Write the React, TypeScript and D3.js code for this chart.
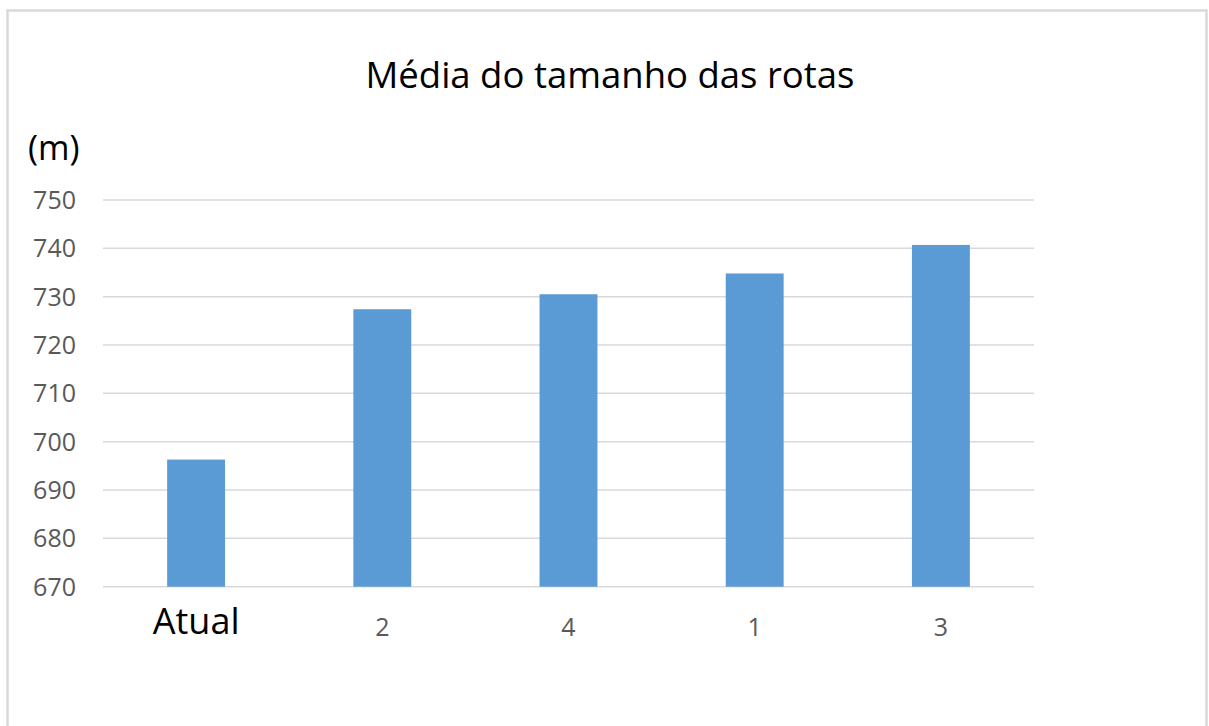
import React from "react";
import * as d3 from "d3";

const categories = ["Atual", "2", "4", "1", "3"];
const values = [696.3, 727.4, 730.5, 734.8, 740.7];
const yTicks = [670, 680, 690, 700, 710, 720, 730, 740, 750];
const title = "Média do tamanho das rotas";
const unitLabel = "(m)";

const W = 1209;
const H = 726;
const plot = { left: 103, right: 1034, top: 200, bottom: 586.7 };
const FONT = "'Open Sans', 'Noto Sans', sans-serif";

export default function App() {
  const x = d3
    .scaleBand<string>()
    .domain(categories)
    .range([plot.left, plot.right])
    .paddingInner(0.689)
    .paddingOuter(0.3445);
  const y = d3.scaleLinear().domain([670, 750]).range([plot.bottom, plot.top]);

  return (
    <svg
      width={W}
      height={H}
      style={{ position: "absolute", left: 0, top: 0, background: "#fff" }}
    >
      <rect x={0} y={0} width={W} height={H} fill="#fff" />
      <rect
        x={7.5}
        y={10.5}
        width={1199}
        height={740}
        fill="#fff"
        stroke="#d9d9d9"
        strokeWidth={2.5}
      />
      <text
        x={610}
        y={88}
        textAnchor="middle"
        fontFamily={FONT}
        fontSize={36.5}
        fill="#000"
      >
        {title}
      </text>
      <text x={28} y={160} fontFamily={FONT} fontSize={34} fill="#000">
        {unitLabel}
      </text>
      {yTicks.map((t) => (
        <g key={t}>
          <line
            x1={plot.left}
            x2={plot.right}
            y1={y(t)}
            y2={y(t)}
            stroke="#d9d9d9"
            strokeWidth={1.5}
          />
          <text
            x={76}
            y={y(t) + 9}
            textAnchor="end"
            fontFamily={FONT}
            fontSize={25}
            fill="#595959"
          >
            {t}
          </text>
        </g>
      ))}
      {categories.map((c, i) => (
        <rect
          key={c}
          x={x(c)}
          y={y(values[i])}
          width={x.bandwidth()}
          height={y(670) - y(values[i])}
          fill="#5b9bd5"
        />
      ))}
      {categories.map((c, i) => (
        <text
          key={"l" + c}
          x={(x(c) as number) + x.bandwidth() / 2}
          y={i === 0 ? 634 : 636}
          textAnchor="middle"
          fontFamily={FONT}
          fontSize={i === 0 ? 36 : 25}
          fill={i === 0 ? "#000" : "#595959"}
        >
          {c}
        </text>
      ))}
    </svg>
  );
}
